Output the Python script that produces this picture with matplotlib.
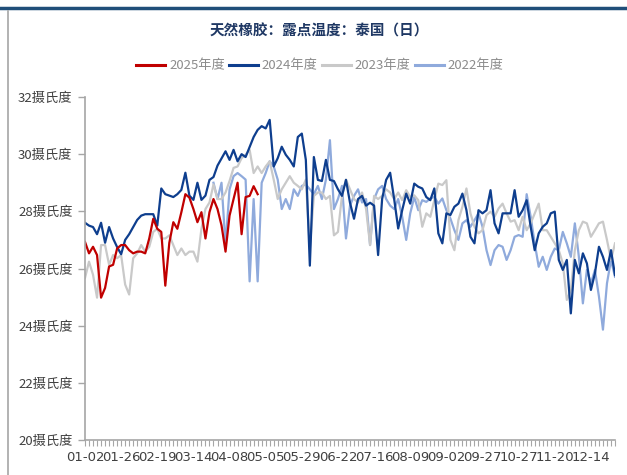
import numpy as np
import matplotlib
matplotlib.use('Agg')
import matplotlib.pyplot as plt
from matplotlib.lines import Line2D

plt.rcParams['font.family'] = ['Noto Sans CJK SC', 'DejaVu Sans']

# category axis: trading days of the year, a label every 18 days
TICK_LABELS = ['01-02', '01-26', '02-19', '03-14', '04-08', '05-05', '05-29',
               '06-22', '07-16', '08-09', '09-02', '09-27', '10-27', '11-20',
               '12-14']
LABEL_EVERY = 18
N_DAYS = 265
STEP = 2          # values below are read every 2nd trading day
START_2022 = 64   # 2022 series becomes visible from here

Y_TICKS = [20, 22, 24, 26, 28, 30, 32]

v2025 = [26.93, 26.53, 26.76, 26.47, 24.98, 25.32, 26.07, 26.13, 26.7, 26.82,
         26.82, 26.64, 26.53, 26.59, 26.59, 26.53, 27.05, 27.74, 27.39, 27.28,
         25.4, 26.9, 27.62, 27.39, 27.97, 28.6, 28.48, 28.08, 27.62, 27.97,
         27.05, 27.97, 28.43, 28.08, 27.51, 26.59, 27.85, 28.43, 29.0, 27.2,
         28.5, 28.54, 28.88, 28.6]

v2024 = [27.6, 27.5, 27.45, 27.2, 27.6, 26.9, 27.45, 27.05, 26.75, 26.5,
         27.0, 27.2, 27.45, 27.7, 27.85, 27.9, 27.9, 27.9, 27.5, 28.8,
         28.6, 28.55, 28.5, 28.6, 28.75, 29.35, 28.55, 28.4, 29.0, 28.4,
         28.55, 29.1, 29.2, 29.6, 29.85, 30.1, 29.8, 30.15, 29.75, 30.0,
         29.9, 30.25, 30.6, 30.85, 30.98, 30.9, 31.2, 29.57, 29.86, 30.26,
         29.98, 29.8, 29.57, 30.6, 30.72, 29.8, 26.1, 29.9, 29.1, 29.06,
         29.8, 29.1, 29.06, 28.77, 28.54, 29.1, 28.3, 27.74, 28.43, 28.54,
         28.2, 28.3, 28.2, 26.47, 28.43, 29.1, 29.35, 28.43, 27.4, 28.04,
         28.62, 28.27, 28.97, 28.86, 28.8, 28.5, 28.39, 28.8, 27.23, 26.88,
         27.93, 27.87, 28.16, 28.27, 28.62, 28.04, 27.11, 26.88, 28.04, 27.93,
         28.04, 28.74, 27.58, 27.23, 27.93, 27.93, 27.93, 28.74, 27.81, 28.04,
         28.39, 27.46, 26.64, 27.23, 27.46, 27.58, 27.93, 27.99, 26.3, 25.95,
         26.3, 24.43, 26.3, 25.83, 26.53, 26.18, 25.25, 25.83, 26.76, 26.41,
         25.95, 26.64, 25.77]

v2023 = [25.67, 26.24, 25.78, 24.98, 26.82, 26.82, 26.13, 26.47, 26.36, 26.47,
         25.44, 25.09, 26.36, 26.53, 26.82, 26.59, 26.76, 27.28, 27.39, 27.05,
         27.05, 27.16, 26.82, 26.47, 26.7, 26.47, 26.59, 26.59, 26.24, 27.39,
         28.08, 28.31, 28.94, 28.43, 28.43, 28.66, 29.06, 29.52, 29.57, 29.86,
         29.98, 30.15, 29.34, 29.57, 29.34, 29.57, 29.75, 29.11, 28.43, 28.77,
         29.0, 29.23, 29.0, 28.89, 28.77, 29.11, 26.7, 28.54, 28.66, 28.66,
         28.43, 28.54, 27.16, 27.28, 28.54, 29.11, 28.77, 28.43, 28.31, 28.66,
         28.08, 26.82, 28.54, 28.43, 28.54, 28.77, 28.66, 28.43, 28.66, 28.39,
         28.74, 28.5, 28.56, 28.39, 27.46, 27.93, 27.81, 28.39, 28.97, 28.92,
         29.09, 27.0, 26.64, 27.69, 28.16, 28.8, 27.93, 27.46, 27.23, 27.34,
         27.87, 27.99, 27.81, 28.1, 28.27, 27.93, 27.64, 27.69, 27.34, 27.81,
         27.34, 27.58, 27.93, 28.27, 27.34, 27.34, 27.11, 26.88, 26.64, 26.18,
         24.9, 25.25, 26.64, 27.34, 27.64, 27.58, 27.11, 27.34, 27.58, 27.64,
         27.0, 26.3, 26.88]

v2022 = [29.0, 28.43, 29.0, 26.82, 28.77, 29.23, 29.34, 29.23, 29.11, 25.55,
         28.43, 25.55, 29.0, 29.34, 29.75, 29.57, 29.11, 28.08, 28.43, 28.08,
         28.77, 28.54, 28.89, 28.94, 28.77, 28.6, 28.89, 28.43, 29.11, 30.49,
         28.08, 28.43, 28.89, 27.05, 28.2, 28.54, 28.77, 28.31, 28.43, 26.82,
         28.43, 28.77, 28.89, 28.43, 28.2, 28.08, 28.43, 27.81, 27.0, 27.93,
         28.5, 28.04, 28.39, 28.33, 28.45, 28.5, 28.27, 28.45, 28.04, 27.75,
         27.34, 27.0, 27.58, 27.69, 27.46, 27.69, 27.93, 27.46, 26.64, 26.12,
         26.64, 26.82, 26.76, 26.3, 26.64, 27.11, 27.17, 27.11, 28.6, 27.81,
         26.88, 26.06, 26.41, 25.95, 26.41, 26.7, 26.64, 27.28, 26.88, 26.41,
         27.58, 26.41, 24.78, 25.95, 25.48, 25.95, 25.02, 23.86, 25.48, 26.3,
         25.71]

# drawn bottom to top
SERIES = [
    ('2022年度', v2022, START_2022, '#8FAADC'),
    ('2023年度', v2023, 0, '#C9C9C9'),
    ('2024年度', v2024, 0, '#0E3E8E'),
    ('2025年度', v2025, 0, '#C00000'),
]

fig = plt.figure(figsize=(6.27, 4.75), dpi=100)
ax = fig.add_axes([85 / 627, 35 / 475, 530 / 627, 343 / 475])

lines = {}
for name, vals, start, color in SERIES:
    xs = start + STEP * np.arange(len(vals))
    lines[name], = ax.plot(xs, vals, color=color, lw=1.6, label=name,
                           solid_joinstyle='round')

ax.set_xlim(0, N_DAYS - 1)
ax.set_ylim(20, 32)
ax.set_yticks(Y_TICKS)
ax.set_yticklabels(['{}摄氏度'.format(v) for v in Y_TICKS],
                   fontsize=9.5, color='#404040')
ax.set_xticks(np.arange(len(TICK_LABELS)) * LABEL_EVERY)
ax.set_xticklabels(TICK_LABELS, fontsize=9.5, color='#404040',
                   family='DejaVu Sans')
ax.set_xticks(np.arange(0, N_DAYS, STEP), minor=True)

for side in ('top', 'right'):
    ax.spines[side].set_visible(False)
for side in ('left', 'bottom'):
    ax.spines[side].set_color('#A6A6A6')
    ax.spines[side].set_linewidth(1.2)
ax.tick_params(axis='y', length=5, color='#A6A6A6', width=1, pad=4)
ax.tick_params(axis='x', which='both', length=4, color='#A6A6A6',
               width=0.8, pad=4)

fig.text(0.51, 1 - 31 / 475, '天然橡胶：露点温度：泰国（日）',
         ha='center', va='center', fontsize=10.5, fontweight='bold',
         color='#1F3864')

order = ['2025年度', '2024年度', '2023年度', '2022年度']
leg = fig.legend([lines[n] for n in order], order, loc='center',
                 bbox_to_anchor=(0.51, 1 - 66 / 475), ncol=4, frameon=False,
                 fontsize=9.5, handlelength=2.2, handletextpad=0.3,
                 columnspacing=0.3)
for t in leg.get_texts():
    t.set_color('#8C8C8C')
for h in leg.get_lines():
    h.set_linewidth(2.2)

# page decorations around the chart
fig.add_artist(Line2D([0, 1], [1 - 8 / 475] * 2, color='#1F4E79', lw=2.5,
                      transform=fig.transFigure))
fig.add_artist(Line2D([8 / 627] * 2, [0, 1 - 11 / 475], color='#A6A6A6',
                      lw=1.2, transform=fig.transFigure))

fig.savefig('out.png', dpi=100)
